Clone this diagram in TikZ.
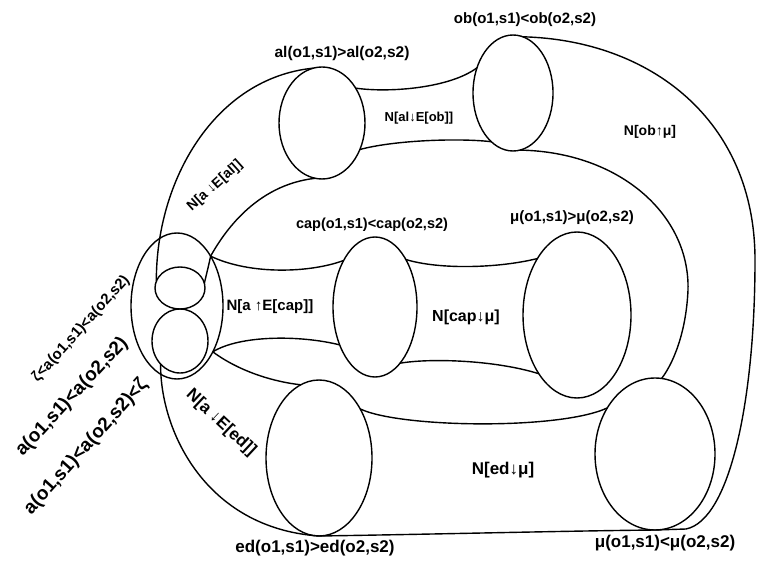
\documentclass[tikz,border=0pt]{standalone}
\usepackage{fontspec}
\usetikzlibrary{shapes.geometric}
\newfontfamily\labfont{Liberation Sans}
\begin{document}
\begin{tikzpicture}[x=1pt,y=-1pt, line width=1.4pt,
  oval/.style={draw, ellipse, inner sep=0pt, outer sep=0pt},
  lab/.style={font=\labfont\bfseries\fontsize{#1}{#1}\selectfont, inner sep=0pt}]
\useasboundingbox (0,0) rectangle (759,561);
% cross-sections
\node[oval, minimum width=92pt, minimum height=146pt] (A) at (177,306) {};
\node[oval, minimum width=50pt, minimum height=42pt] (At) at (180,288) {};
\node[oval, minimum width=56pt, minimum height=64pt] (Ab) at (180,341) {};
\node[oval, minimum width=86pt, minimum height=112pt] (al) at (322,123) {};
\node[oval, minimum width=80pt, minimum height=116pt] (ob) at (513,93) {};
\node[oval, minimum width=84pt, minimum height=140pt] (cap) at (375,307) {};
\node[oval, minimum width=108pt, minimum height=166pt] (mu1) at (577,315) {};
\node[oval, minimum width=106pt, minimum height=156pt] (ed) at (319,458) {};
\node[oval, minimum width=120pt, minimum height=152pt] (mu2) at (655,454) {};
\coordinate (cE) at (686,529);
% tubes
\draw (At.164) .. controls (156,180) and (215,78) .. (al.99);
\draw (At.11) .. controls (207,272) and (209,264) .. (A.56) .. controls (223,234) and (255,185) .. (al.-97);
\draw (A.56) .. controls (250,275) and (310,273) .. (cap.124);
\draw (A.-52) .. controls (240,335) and (300,335) .. (cap.227);
\draw (A.-52) .. controls (240,372) and (275,382) .. (ed.104);
\draw (cap.57) .. controls (440,270) and (500,268) .. (mu1.125);
\draw (cap.-66) .. controls (430,358) and (495,360) .. (mu1.237);
\draw (al.46) .. controls (390,93) and (450,88) .. (ob.145);
\draw (al.-35) .. controls (395,140) and (460,138) .. (ob.246);
\draw (ob.-83) .. controls (620,152) and (690,215) .. (688,290) .. controls (686,335) and (672,365) .. (mu2.85);
\draw (ob.80) .. controls (650,40) and (755,120) .. (755,260) .. controls (755,400) and (730,520) .. (cE);
\draw (Ab.230) .. controls (160,430) and (205,528) .. (ed.south);
\draw (ed.south) .. controls (450,534) and (560,531) .. (mu2.south) -- (cE);
\draw (ed.50) .. controls (400,428) and (560,430) .. (mu2.136);
% labels
\node[lab=15.5] (tal) at (342,53) {al(o1,s1)>al(o2,s2)};
\node[lab=15] (tob) at (525,20) {ob(o1,s1)<ob(o2,s2)};
\node[lab=14.5] (tcap) at (372,225) {cap(o1,s1)<cap(o2,s2)};
\node[lab=15] (tmu1) at (572,218) {μ(o1,s1)>μ(o2,s2)};
\node[lab=17] (ted) at (315,548) {ed(o1,s1)>ed(o2,s2)};
\node[lab=17] (tmu2) at (665,543) {μ(o1,s1)<μ(o2,s2)};
\node[lab=13] (nalob) at (419,118) {N[al↓E[ob]]};
\node[lab=14] (nobmu) at (650,132) {N[ob↑μ]};
\node[lab=14, rotate=42] (naal) at (215,186) {N[a ↓E[al]]};
\node[lab=15] (nacap) at (270,307) {N[a ↑E[cap]]};
\node[lab=16] (ncapmu) at (466,317) {N[cap↓μ]};
\node[lab=17] (nedmu) at (503,470) {N[ed↓μ]};
\node[lab=17, rotate=-43] (naed) at (221,423) {N[a ↓E[ed]]};
\node[lab=15, rotate=48] (ta1) at (81,329) {ζ<a(o1,s1)<a(o2,s2)};
\node[lab=19, rotate=47] (ta2) at (72,397) {a(o1,s1)<a(o2,s2)};
\node[lab=19, rotate=48] (ta3) at (86,447) {a(o1,s1)<a(o2,s2)<ζ};
\end{tikzpicture}
\end{document}
